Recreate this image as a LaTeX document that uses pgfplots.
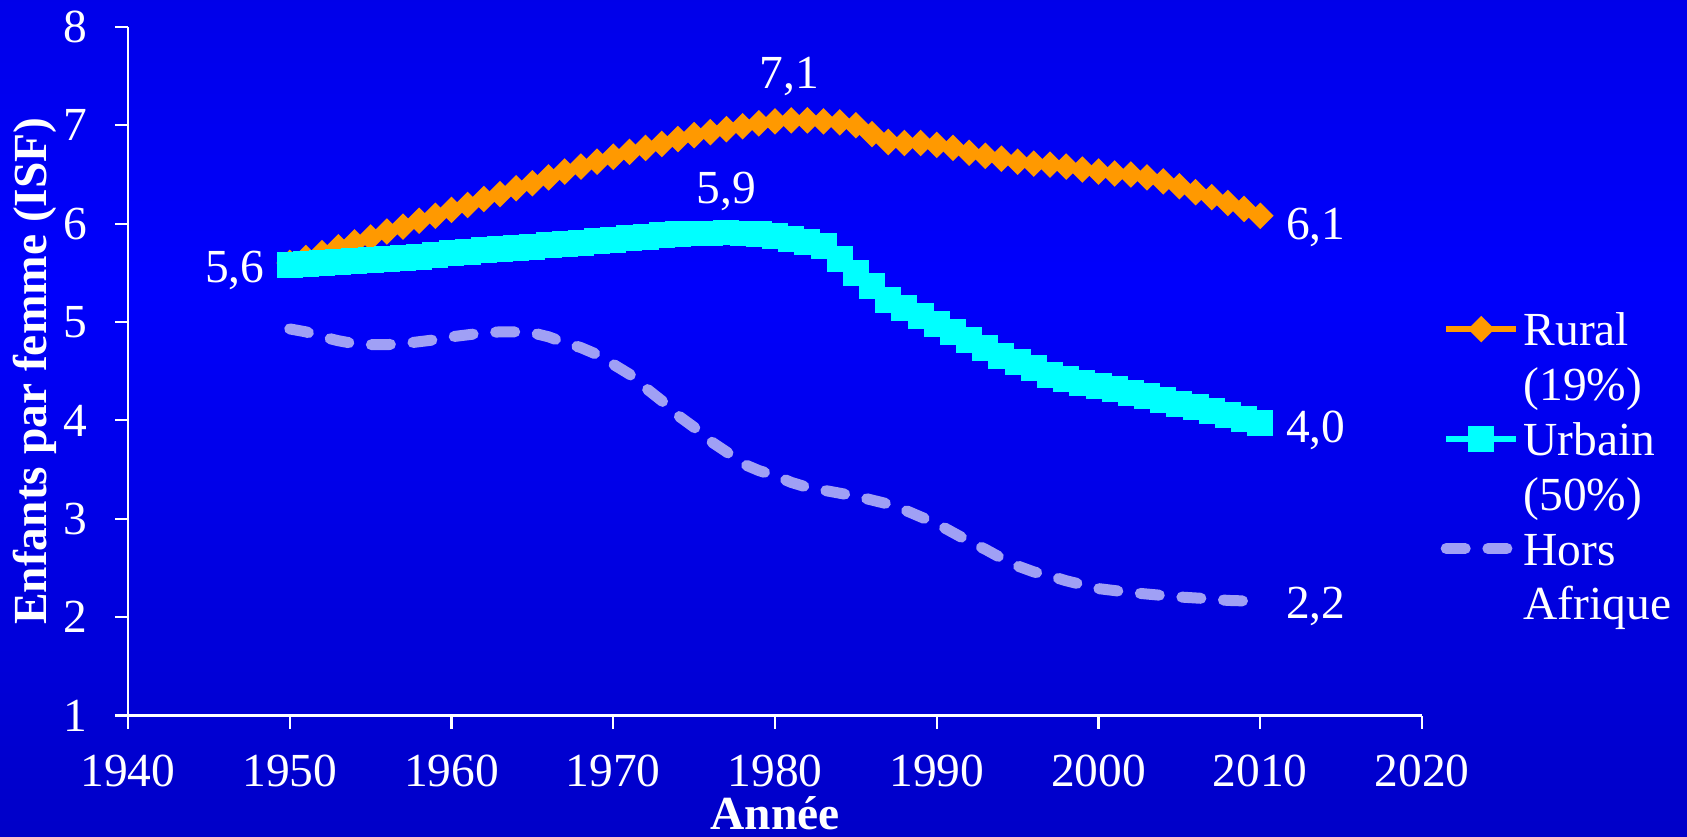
\documentclass[border=0pt]{standalone}
\usepackage{fontspec}
\setmainfont{Liberation Serif}
\usepackage{pgfplots}
\pgfplotsset{compat=1.18}
\usepackage{pgfplotstable}

\definecolor{rural}{RGB}{255,153,0}
\definecolor{urbain}{RGB}{0,255,255}
\definecolor{hors}{RGB}{160,160,245}
\definecolor{bgtop}{RGB}{0,0,206}
\definecolor{bgmid}{RGB}{0,0,252}
\definecolor{bglow}{RGB}{0,0,200}
\definecolor{bgbot}{RGB}{0,0,140}

\pgfdeclareverticalshading{fond}{100bp}{color(0bp)=(bgbot); color(25bp)=(bglow); color(58bp)=(bgmid); color(100bp)=(bgtop)}

\newcommand{\txt}{\fontsize{13.5}{16}\selectfont}

% Indice synthetique de fecondite (enfants par femme)
\pgfplotstableread{
annee isf
1950 5.60
1951 5.65
1952 5.70
1953 5.76
1954 5.81
1955 5.86
1956 5.92
1957 5.97
1958 6.03
1959 6.08
1960 6.14
1961 6.19
1962 6.25
1963 6.30
1964 6.36
1965 6.41
1966 6.47
1967 6.53
1968 6.58
1969 6.63
1970 6.68
1971 6.73
1972 6.77
1973 6.81
1974 6.86
1975 6.90
1976 6.93
1977 6.96
1978 6.99
1979 7.02
1980 7.04
1981 7.05
1982 7.05
1983 7.04
1984 7.03
1985 7.00
1986 6.91
1987 6.83
1988 6.82
1989 6.82
1990 6.80
1991 6.77
1992 6.72
1993 6.69
1994 6.66
1995 6.63
1996 6.61
1997 6.60
1998 6.58
1999 6.55
2000 6.53
2001 6.51
2002 6.50
2003 6.47
2004 6.43
2005 6.38
2006 6.32
2007 6.27
2008 6.21
2009 6.15
2010 6.08
}\rural

\pgfplotstableread{
annee isf
1950 5.58
1951 5.59
1952 5.60
1953 5.61
1954 5.62
1955 5.63
1956 5.64
1957 5.65
1958 5.66
1959 5.68
1960 5.70
1961 5.71
1962 5.73
1963 5.74
1964 5.75
1965 5.76
1966 5.78
1967 5.79
1968 5.80
1969 5.82
1970 5.83
1971 5.85
1972 5.86
1973 5.88
1974 5.89
1975 5.90
1976 5.90
1977 5.91
1978 5.90
1979 5.89
1980 5.87
1981 5.84
1982 5.81
1983 5.77
1984 5.64
1985 5.50
1986 5.37
1987 5.22
1988 5.14
1989 5.06
1990 4.98
1991 4.90
1992 4.82
1993 4.74
1994 4.65
1995 4.59
1996 4.53
1997 4.46
1998 4.42
1999 4.38
2000 4.35
2001 4.32
2002 4.28
2003 4.25
2004 4.21
2005 4.17
2006 4.14
2007 4.10
2008 4.05
2009 4.01
2010 3.97
}\urbain

\pgfplotstableread{
annee isf
1950 4.93
1951 4.90
1952 4.85
1953 4.81
1954 4.78
1955 4.77
1956 4.77
1957 4.78
1958 4.80
1959 4.82
1960 4.85
1961 4.87
1962 4.89
1963 4.90
1964 4.90
1965 4.89
1966 4.85
1967 4.79
1968 4.74
1969 4.67
1970 4.57
1971 4.47
1972 4.33
1973 4.20
1974 4.05
1975 3.93
1976 3.79
1977 3.68
1978 3.56
1979 3.49
1980 3.44
1981 3.37
1982 3.32
1983 3.29
1984 3.26
1985 3.23
1986 3.19
1987 3.15
1988 3.09
1989 3.02
1990 2.95
1991 2.86
1992 2.77
1993 2.69
1994 2.60
1995 2.52
1996 2.46
1997 2.42
1998 2.37
1999 2.33
2000 2.29
2001 2.27
2002 2.25
2003 2.235
2004 2.22
2005 2.205
2006 2.195
2007 2.185
2008 2.17
2009 2.165
2010 2.16
}\hors

\begin{document}
\begin{tikzpicture}
\shade[shading=fond] (0,0) rectangle (168.7mm,83.6mm);
\begin{axis}[
  at={(12.8mm,12.05mm)}, anchor=south west,
  scale only axis, width=129.4mm, height=68.86mm,
  xmin=1940, xmax=2020, ymin=1, ymax=8,
  xtick={1940,1950,...,2020}, ytick={1,2,...,8},
  axis lines*=left,
  axis line style={white, line width=0.6pt},
  tick style={white, line width=0.6pt},
  tick align=outside, major tick length=1.3mm,
  /pgf/number format/.cd, 1000 sep={}, assume math mode=true, /pgfplots/.cd,
  tick label style={font=\txt, text=white},
  xticklabel style={yshift=-1.4mm},
  yticklabel style={xshift=-1.55mm},
  xlabel={Année},
  xlabel style={font=\bfseries\txt, text=white, at={(axis description cs:0.5,-0.142)}, anchor=center},
  ylabel={Enfants par femme (ISF)},
  ylabel style={font=\bfseries\txt, text=white, at={(axis description cs:-0.0717,0.5)}, anchor=center},
  clip=false,
  legend image code/.code={\draw[mark repeat=2,mark phase=2] plot coordinates {(0mm,0mm)(3.5mm,0mm)(7.0mm,0mm)};},
  legend style={at={(axis description cs:1.0139,0.6019)}, anchor=north west,
    draw=none, fill=none, inner sep=0pt, row sep=0pt, column sep=0.2mm,
    font=\txt, text=white,
    nodes={inner sep=0pt, text height=12.5pt, text depth=3.1pt}},
  legend cell align=left,
]
\addplot[rural, line width=1.7pt, mark=square*, mark size=0.64mm,
  mark options={draw=none, fill=rural, rotate=45}] table[x=annee, y=isf] {\rural};
\addlegendentry{Rural}
\addlegendimage{empty legend}
\addlegendentry{(19\%)}
\addplot[urbain, line width=1.7pt, mark=square*, mark size=1.0mm,
  mark options={draw=none, fill=urbain}] table[x=annee, y=isf] {\urbain};
\addlegendentry{Urbain}
\addlegendimage{empty legend}
\addlegendentry{(50\%)}
\addplot[hors, line width=1.1mm, line cap=round, line join=round,
  dash pattern=on 1.9mm off 2.27mm] table[x=annee, y=isf] {\hors};
\addlegendentry{Hors}
\addlegendimage{empty legend}
\addlegendentry{Afrique}

\begin{scope}[every node/.style={font=\txt, text=white, inner sep=0pt}]
\node[anchor=base] at (axis cs:1946.6,5.40) {5,6};
\node[anchor=base] at (axis cs:1980.9,7.37) {7,1};
\node[anchor=base] at (axis cs:1977.0,6.207) {5,9};
\node[anchor=base west] at (axis cs:2011.55,5.84) {6,1};
\node[anchor=base west] at (axis cs:2011.55,3.78) {4,0};
\node[anchor=base west] at (axis cs:2011.55,1.99) {2,2};
\end{scope}
\end{axis}
\pgfresetboundingbox
\path[use as bounding box] (0,0) rectangle (168.7mm,83.6mm);
\end{tikzpicture}
\end{document}
